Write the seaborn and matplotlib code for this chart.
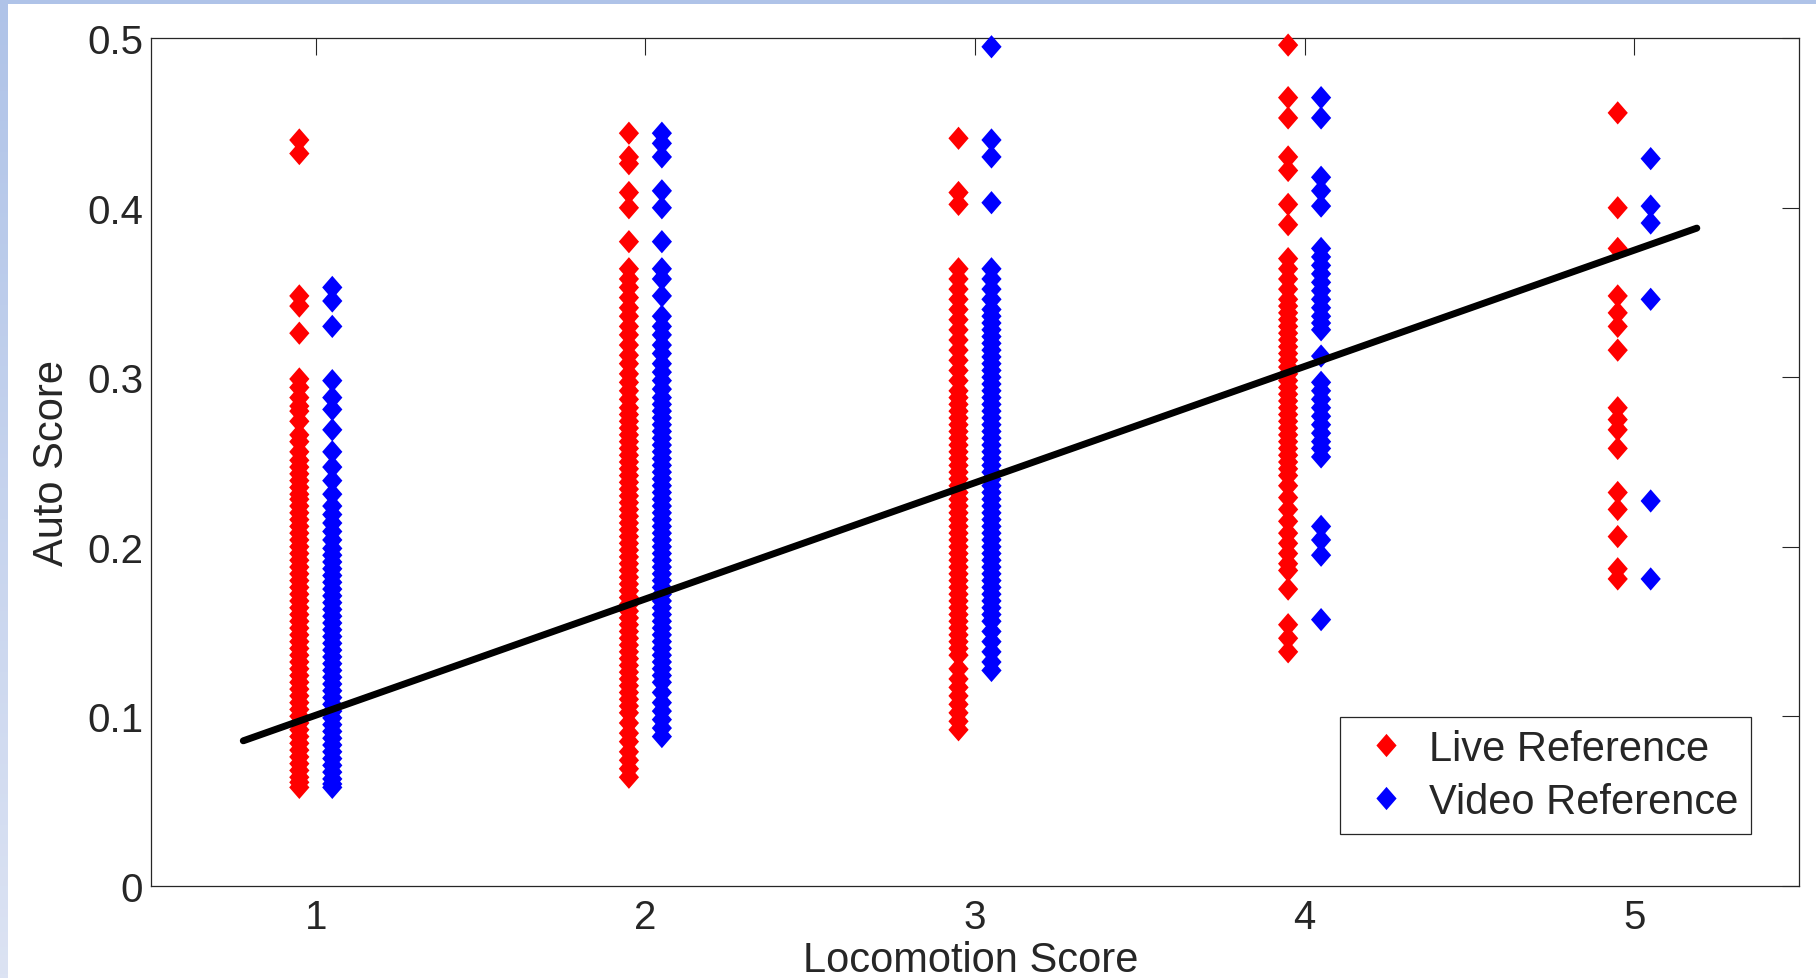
import numpy as np
import pandas as pd
import matplotlib
matplotlib.use("Agg")
import matplotlib.pyplot as plt
from matplotlib.lines import Line2D
from matplotlib.markers import MarkerStyle
import seaborn as sns

# --- Data ---
scores = [1, 2, 3, 4, 5]
series_names = ["Live Reference", "Video Reference"]

live_1 = [0.440, 0.432, 0.348, 0.342, 0.326,
          0.299, 0.294, 0.288, 0.283, 0.280, 0.274, 0.266, 0.262, 0.256, 0.251,
          0.247, 0.243, 0.239, 0.235, 0.231, 0.228, 0.224, 0.220, 0.216, 0.212,
          0.208, 0.204, 0.200, 0.196, 0.192, 0.188, 0.184, 0.180, 0.176, 0.172,
          0.168, 0.164, 0.160, 0.156, 0.152, 0.148, 0.144, 0.140, 0.136, 0.132,
          0.128, 0.124, 0.120, 0.116, 0.112, 0.108, 0.104, 0.100, 0.096, 0.092,
          0.088, 0.084, 0.080, 0.076, 0.072, 0.068, 0.064, 0.061, 0.058]
video_1 = [0.353, 0.345, 0.330,
           0.298, 0.288, 0.281, 0.269, 0.256, 0.247, 0.239, 0.231, 0.224, 0.219,
           0.214, 0.209, 0.204, 0.199, 0.195, 0.191, 0.187, 0.183, 0.179, 0.175,
           0.171, 0.167, 0.163, 0.159, 0.155, 0.151, 0.147, 0.143, 0.139, 0.135,
           0.131, 0.127, 0.123, 0.119, 0.115, 0.111, 0.107, 0.103, 0.099, 0.095,
           0.091, 0.087, 0.083, 0.079, 0.075, 0.071, 0.067, 0.063, 0.060, 0.058]

live_2 = [0.444, 0.430, 0.426, 0.409, 0.400, 0.380,
          0.364, 0.358, 0.353, 0.347, 0.341, 0.336, 0.330, 0.325, 0.319, 0.313,
          0.308, 0.302, 0.297, 0.292, 0.287, 0.282, 0.278, 0.274, 0.270, 0.266,
          0.262, 0.258, 0.254, 0.250, 0.246, 0.242, 0.238, 0.234, 0.230, 0.226,
          0.222, 0.218, 0.214, 0.210, 0.206, 0.202, 0.198, 0.194, 0.190, 0.186,
          0.182, 0.178, 0.174, 0.170, 0.166, 0.162, 0.158, 0.154, 0.150, 0.146,
          0.142, 0.138, 0.134, 0.130, 0.126, 0.122, 0.118, 0.114, 0.110, 0.106,
          0.102, 0.096, 0.090, 0.085, 0.079, 0.074, 0.069, 0.064]
video_2 = [0.444, 0.438, 0.430, 0.410, 0.400, 0.380, 0.364, 0.358, 0.348,
           0.336, 0.330, 0.325, 0.319, 0.314, 0.308, 0.303, 0.298, 0.293, 0.288,
           0.284, 0.280, 0.276, 0.272, 0.268, 0.264, 0.260, 0.256, 0.252, 0.248,
           0.244, 0.240, 0.236, 0.232, 0.228, 0.224, 0.220, 0.216, 0.212, 0.208,
           0.204, 0.200, 0.196, 0.192, 0.188, 0.184, 0.180, 0.176, 0.172, 0.168,
           0.164, 0.160, 0.156, 0.152, 0.148, 0.144, 0.140, 0.136, 0.132, 0.128,
           0.124, 0.120, 0.114, 0.108, 0.103, 0.098, 0.093, 0.088]

live_3 = [0.441, 0.409, 0.402,
          0.364, 0.358, 0.352, 0.346, 0.340, 0.334, 0.328, 0.322, 0.316, 0.310,
          0.304, 0.298, 0.292, 0.288, 0.284, 0.280, 0.276, 0.272, 0.268, 0.264,
          0.260, 0.256, 0.252, 0.248, 0.244, 0.240, 0.236, 0.232, 0.228, 0.224,
          0.220, 0.216, 0.212, 0.208, 0.204, 0.200, 0.196, 0.192, 0.188, 0.184,
          0.180, 0.176, 0.172, 0.168, 0.164, 0.160, 0.156, 0.152, 0.148, 0.144,
          0.140, 0.136, 0.128, 0.122, 0.117, 0.112, 0.107, 0.102, 0.097, 0.092]
video_3 = [0.495, 0.440, 0.430, 0.403,
           0.364, 0.358, 0.352, 0.346, 0.340, 0.336, 0.332, 0.328, 0.324, 0.320,
           0.316, 0.312, 0.308, 0.304, 0.300, 0.296, 0.292, 0.288, 0.284, 0.280,
           0.276, 0.272, 0.268, 0.264, 0.260, 0.256, 0.252, 0.248, 0.244, 0.240,
           0.236, 0.232, 0.228, 0.224, 0.220, 0.216, 0.212, 0.208, 0.204, 0.200,
           0.196, 0.192, 0.188, 0.184, 0.180, 0.176, 0.172, 0.168, 0.164, 0.160,
           0.156, 0.150, 0.144, 0.138, 0.132, 0.127]

live_4 = [0.496, 0.465, 0.453, 0.430, 0.422, 0.402, 0.390,
          0.370, 0.364, 0.358, 0.352, 0.346, 0.342, 0.338, 0.334, 0.330, 0.326,
          0.322, 0.318, 0.314, 0.310, 0.306, 0.302, 0.298, 0.294, 0.290, 0.286,
          0.282, 0.278, 0.274, 0.270, 0.266, 0.262, 0.258, 0.254, 0.250, 0.246,
          0.242, 0.236, 0.229, 0.222, 0.215, 0.208, 0.202, 0.196, 0.190, 0.186,
          0.175, 0.154, 0.146, 0.138]
video_4 = [0.465, 0.453, 0.418, 0.410, 0.401,
           0.376, 0.371, 0.366, 0.361, 0.356, 0.351, 0.346, 0.341, 0.336, 0.332,
           0.328, 0.3125, 0.297, 0.292, 0.287, 0.282, 0.277, 0.272, 0.267, 0.262,
           0.258, 0.253, 0.212, 0.204, 0.195, 0.157]

live_5 = [0.456, 0.400, 0.376, 0.348, 0.338, 0.330, 0.316, 0.282, 0.275,
          0.269, 0.258, 0.232, 0.222, 0.206, 0.187, 0.181]
video_5 = [0.429, 0.401, 0.391, 0.346, 0.227, 0.181]

live_vals = [live_1, live_2, live_3, live_4, live_5]
video_vals = [video_1, video_2, video_3, video_4, video_5]

# regression line end points
fit_x = [0.78, 5.19]
fit_y = [0.0855, 0.388]

ytick_vals = [0, 0.1, 0.2, 0.3, 0.4, 0.5]
ytick_labels = ["0", "0.1", "0.2", "0.3", "0.4", "0.5"]

# --- Style ---
colors = {"Live Reference": "#FF0000", "Video Reference": "#0000FF"}
offsets = {"Live Reference": -0.05, "Video Reference": 0.05}
diamond = MarkerStyle([(0, 1), (0.87, 0), (0, -1), (-0.87, 0), (0, 1)])
marker_s = 280


def build_frame():
    rows = []
    for s, live, video in zip(scores, live_vals, video_vals):
        for name, vals in zip(series_names, [live, video]):
            for v in vals:
                rows.append((s + offsets[name], v, name))
    return pd.DataFrame(rows, columns=["x", "auto", "ref"])


def main():
    sns.set_style("white")
    plt.rcParams["font.family"] = ["Liberation Sans", "DejaVu Sans"]

    df = build_frame()

    fig = plt.figure(figsize=(18.16, 9.79), dpi=100)
    fig.patch.set_facecolor("white")

    # slide-like light blue border (top and left)
    strip = fig.add_axes([0, 0, 7.5 / 1816, 1])
    grad = np.linspace(0, 1, 256).reshape(-1, 1)
    strip.imshow(grad, aspect="auto", extent=[0, 1, 0, 1],
                 cmap=matplotlib.colors.LinearSegmentedColormap.from_list(
                     "edge", ["#AFC3E8", "#DCE3F3"]))
    strip.axis("off")
    top = fig.add_axes([0, 1 - 5 / 979, 1, 5 / 979])
    top.axis("off")
    top.add_patch(plt.Rectangle((0, 0), 1, 1, color="#AFC3E8"))

    ax = fig.add_axes([151 / 1816, 92.3 / 979, 1648 / 1816, 847.4 / 979])

    sns.scatterplot(data=df, x="x", y="auto", hue="ref", palette=colors,
                    hue_order=series_names, marker=diamond, s=marker_s,
                    edgecolor="face", linewidth=0, legend=False, ax=ax,
                    clip_on=False, zorder=3)
    sns.lineplot(x=fit_x, y=fit_y, color="black", linewidth=5, ax=ax,
                 zorder=5)

    ax.set_xlim(0.5, 5.5)
    ax.set_ylim(0, 0.5)
    ax.set_xticks(scores)
    ax.set_xticklabels([str(s) for s in scores])
    ax.set_yticks(ytick_vals)
    ax.set_yticklabels(ytick_labels)
    ax.tick_params(direction="in", top=True, right=True, length=12,
                   width=0.8, labelsize=29, color="#262626")
    ax.tick_params(axis="y", pad=5.5)
    ax.tick_params(axis="x", pad=9)
    for sp in ax.spines.values():
        sp.set_visible(True)
        sp.set_color("#262626")
        sp.set_linewidth(0.9)

    ax.set_xlabel("Locomotion Score", fontsize=30)
    ax.set_ylabel("Auto Score", fontsize=30)
    ax.xaxis.set_label_coords(0.4975, -0.064)
    ax.yaxis.set_label_coords(-0.048, 0.5)

    handles = [Line2D([], [], linestyle="", marker=diamond,
                      markersize=np.sqrt(marker_s), markerfacecolor=colors[n],
                      markeredgecolor=colors[n], markeredgewidth=0)
               for n in series_names]
    leg = ax.legend(handles, series_names, loc="lower right",
                    bbox_to_anchor=(0.9709, 0.061), fontsize=30,
                    frameon=True, fancybox=False, edgecolor="#262626",
                    framealpha=1, borderpad=0.3, labelspacing=0.3,
                    handlelength=1.65, handletextpad=0.2, borderaxespad=0)
    leg.get_frame().set_linewidth(0.9)

    fig.savefig("out.png", dpi=100, facecolor="white")
    plt.close(fig)


if __name__ == "__main__":
    main()
